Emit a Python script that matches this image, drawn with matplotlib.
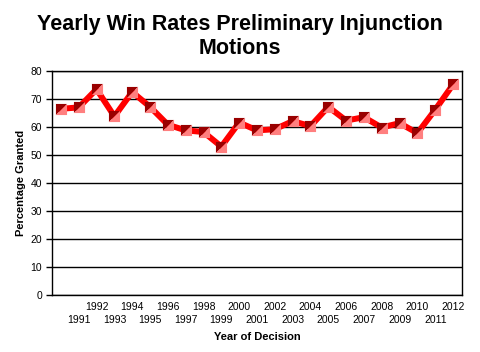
import numpy as np
import matplotlib
matplotlib.use("Agg")
import matplotlib.pyplot as plt

plt.rcParams['font.family'] = ['Liberation Sans', 'DejaVu Sans']

# yearly values
years = list(range(1990, 2013))
granted = [66.5, 67.0, 73.5, 63.8, 72.5, 67.2, 60.8, 58.8, 58.2, 53.0, 61.6,
           58.8, 59.2, 62.1, 60.3, 67.2, 62.3, 63.5, 59.8, 61.4, 57.8, 66.2, 75.2]
yticks = [0, 10, 20, 30, 40, 50, 60, 70, 80]
even_years = [y for y in years if y % 2 == 0 and y > 1990]
odd_years = [y for y in years if y % 2 == 1]

fig = plt.figure(figsize=(4.8, 3.52), dpi=100)
ax = fig.add_axes([52 / 480, 57 / 352, 410 / 480, 224 / 352])

ax.plot(years, granted, color='#ff0000', lw=4.3, solid_joinstyle='miter', zorder=3)
# split square markers: dark upper-left half, light lower-right half
upper = [(-1, -1), (-1, 1), (1, 1), (-1, -1)]
lower = [(-1, -1), (1, 1), (1, -1), (-1, -1)]
ax.plot(years, granted, ls='none', marker=upper, ms=8, mfc='#990000', mec='none', zorder=4)
ax.plot(years, granted, ls='none', marker=lower, ms=8, mfc='#ff7f7f', mec='none', zorder=4)

ax.set_xlim(1989.5, 2012.5)
ax.set_ylim(0, 80)
ax.set_yticks(yticks)
ax.yaxis.grid(True, color='black', lw=1)
ax.set_axisbelow(True)
for s in ax.spines.values():
    s.set_color('black')
    s.set_linewidth(1)

# staggered year labels: even years on the upper row, odd years below
ax.set_xticks(even_years)
ax.set_xticklabels([str(y) for y in even_years])
ax.set_xticks(odd_years, minor=True)
ax.set_xticklabels([str(y) for y in odd_years], minor=True)
ax.tick_params(axis='x', which='major', length=0, pad=5, labelsize=7.5)
ax.tick_params(axis='x', which='minor', length=0, pad=14.5, labelsize=7.5)
ax.tick_params(axis='y', length=4, width=1, pad=3, labelsize=7.5)

ax.set_xlabel('Year of Decision', fontsize=8, fontweight='bold', labelpad=5)
ax.set_ylabel('Percentage Granted', fontsize=8, fontweight='bold', labelpad=3)
fig.text(0.5, 1 - 14 / 352, 'Yearly Win Rates Preliminary Injunction\nMotions',
         ha='center', va='top', fontsize=15.5, fontweight='bold', linespacing=1.2)

fig.savefig('out.png', dpi=100)
